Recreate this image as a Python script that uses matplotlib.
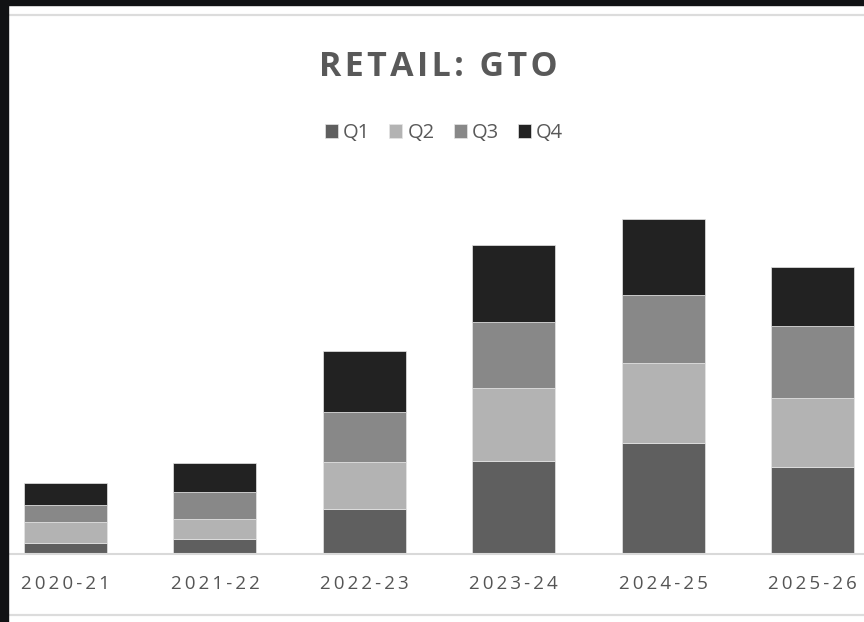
import matplotlib
matplotlib.use("Agg")
import matplotlib.pyplot as plt
from matplotlib.patches import Rectangle
from matplotlib.lines import Line2D

# Quarterly GTO per financial year
years = ["2020-21", "2021-22", "2022-23", "2023-24", "2024-25", "2025-26"]
q1 = [11, 15, 45, 93, 111, 87]
q2 = [21, 20, 47, 73, 80, 69]
q3 = [17, 27, 50, 66, 68, 72]
q4 = [22, 29, 61, 77, 76, 59]
series_names = ["Q1", "Q2", "Q3", "Q4"]
series_colors = ["#5f5f5f", "#b3b3b3", "#888888", "#222222"]

W, H = 864, 622
fig = plt.figure(figsize=(W / 100, H / 100), dpi=100)
fig.patch.set_facecolor("white")

TS = "\u2009"  # thin space used for letter spacing
HS = "\u200a"  # hair space
FAM = ["Open Sans", "DejaVu Sans"]

# plot area in pixel terms: left 8, right 864, baseline at y=554
ax = fig.add_axes([8 / W, (H - 554) / H, (W - 8) / W, 374 / H])
ax.set_facecolor("none")

x = list(range(len(years)))
bottom = [0] * len(years)
handles = []
for name, vals, col in zip(series_names, [q1, q2, q3, q4], series_colors):
    b = ax.bar(x, vals, width=0.556, bottom=bottom, color=col,
               edgecolor="#e6e6e6", linewidth=0.5, label=name, zorder=2)
    handles.append(b)
    bottom = [bt + v for bt, v in zip(bottom, vals)]

ax.set_xlim(-0.385, 5.345)
ax.set_ylim(0, 374)
ax.set_yticks([])
for s in ["top", "left", "right"]:
    ax.spines[s].set_visible(False)
ax.spines["bottom"].set_color("#d9d9d9")
ax.spines["bottom"].set_linewidth(1.5)
ax.tick_params(axis="x", length=0, pad=15)
ax.set_xticks(x)
ax.set_xticklabels([TS.join(y) for y in years], fontsize=13.5,
                   color="#555555", family=FAM)

# title and legend
fig.text(438 / W, 1 - 67 / H, HS.join("RETAIL:") + " " + TS + HS.join("GTO"),
         ha="center", va="center", fontsize=24.5, fontweight="bold",
         color="#595959", family=FAM)
leg = fig.legend(handles=handles, labels=series_names,
                 loc="center", bbox_to_anchor=(444 / W, 1 - 133 / H), ncol=4,
                 frameon=False, handlelength=0.65, handleheight=0.65,
                 handletextpad=0.25, columnspacing=0.95,
                 prop={"family": FAM, "size": 14.5})
for t in leg.get_texts():
    t.set_color("#595959")

# chart frame lines and dark surround
fig.add_artist(Line2D([8 / W, 1], [1 - 15 / H] * 2, color="#dcdcdc", lw=1.6))
fig.add_artist(Line2D([8 / W, 1], [1 - 615 / H] * 2, color="#dcdcdc", lw=1.6))
fig.add_artist(Rectangle((0, 0), 8 / W, 1, transform=fig.transFigure,
                         color="#111214", zorder=10))
fig.add_artist(Rectangle((0, 1 - 5 / H), 1, 5 / H, transform=fig.transFigure,
                         color="#111214", zorder=10))

fig.savefig("out.png", dpi=100, facecolor="white")
